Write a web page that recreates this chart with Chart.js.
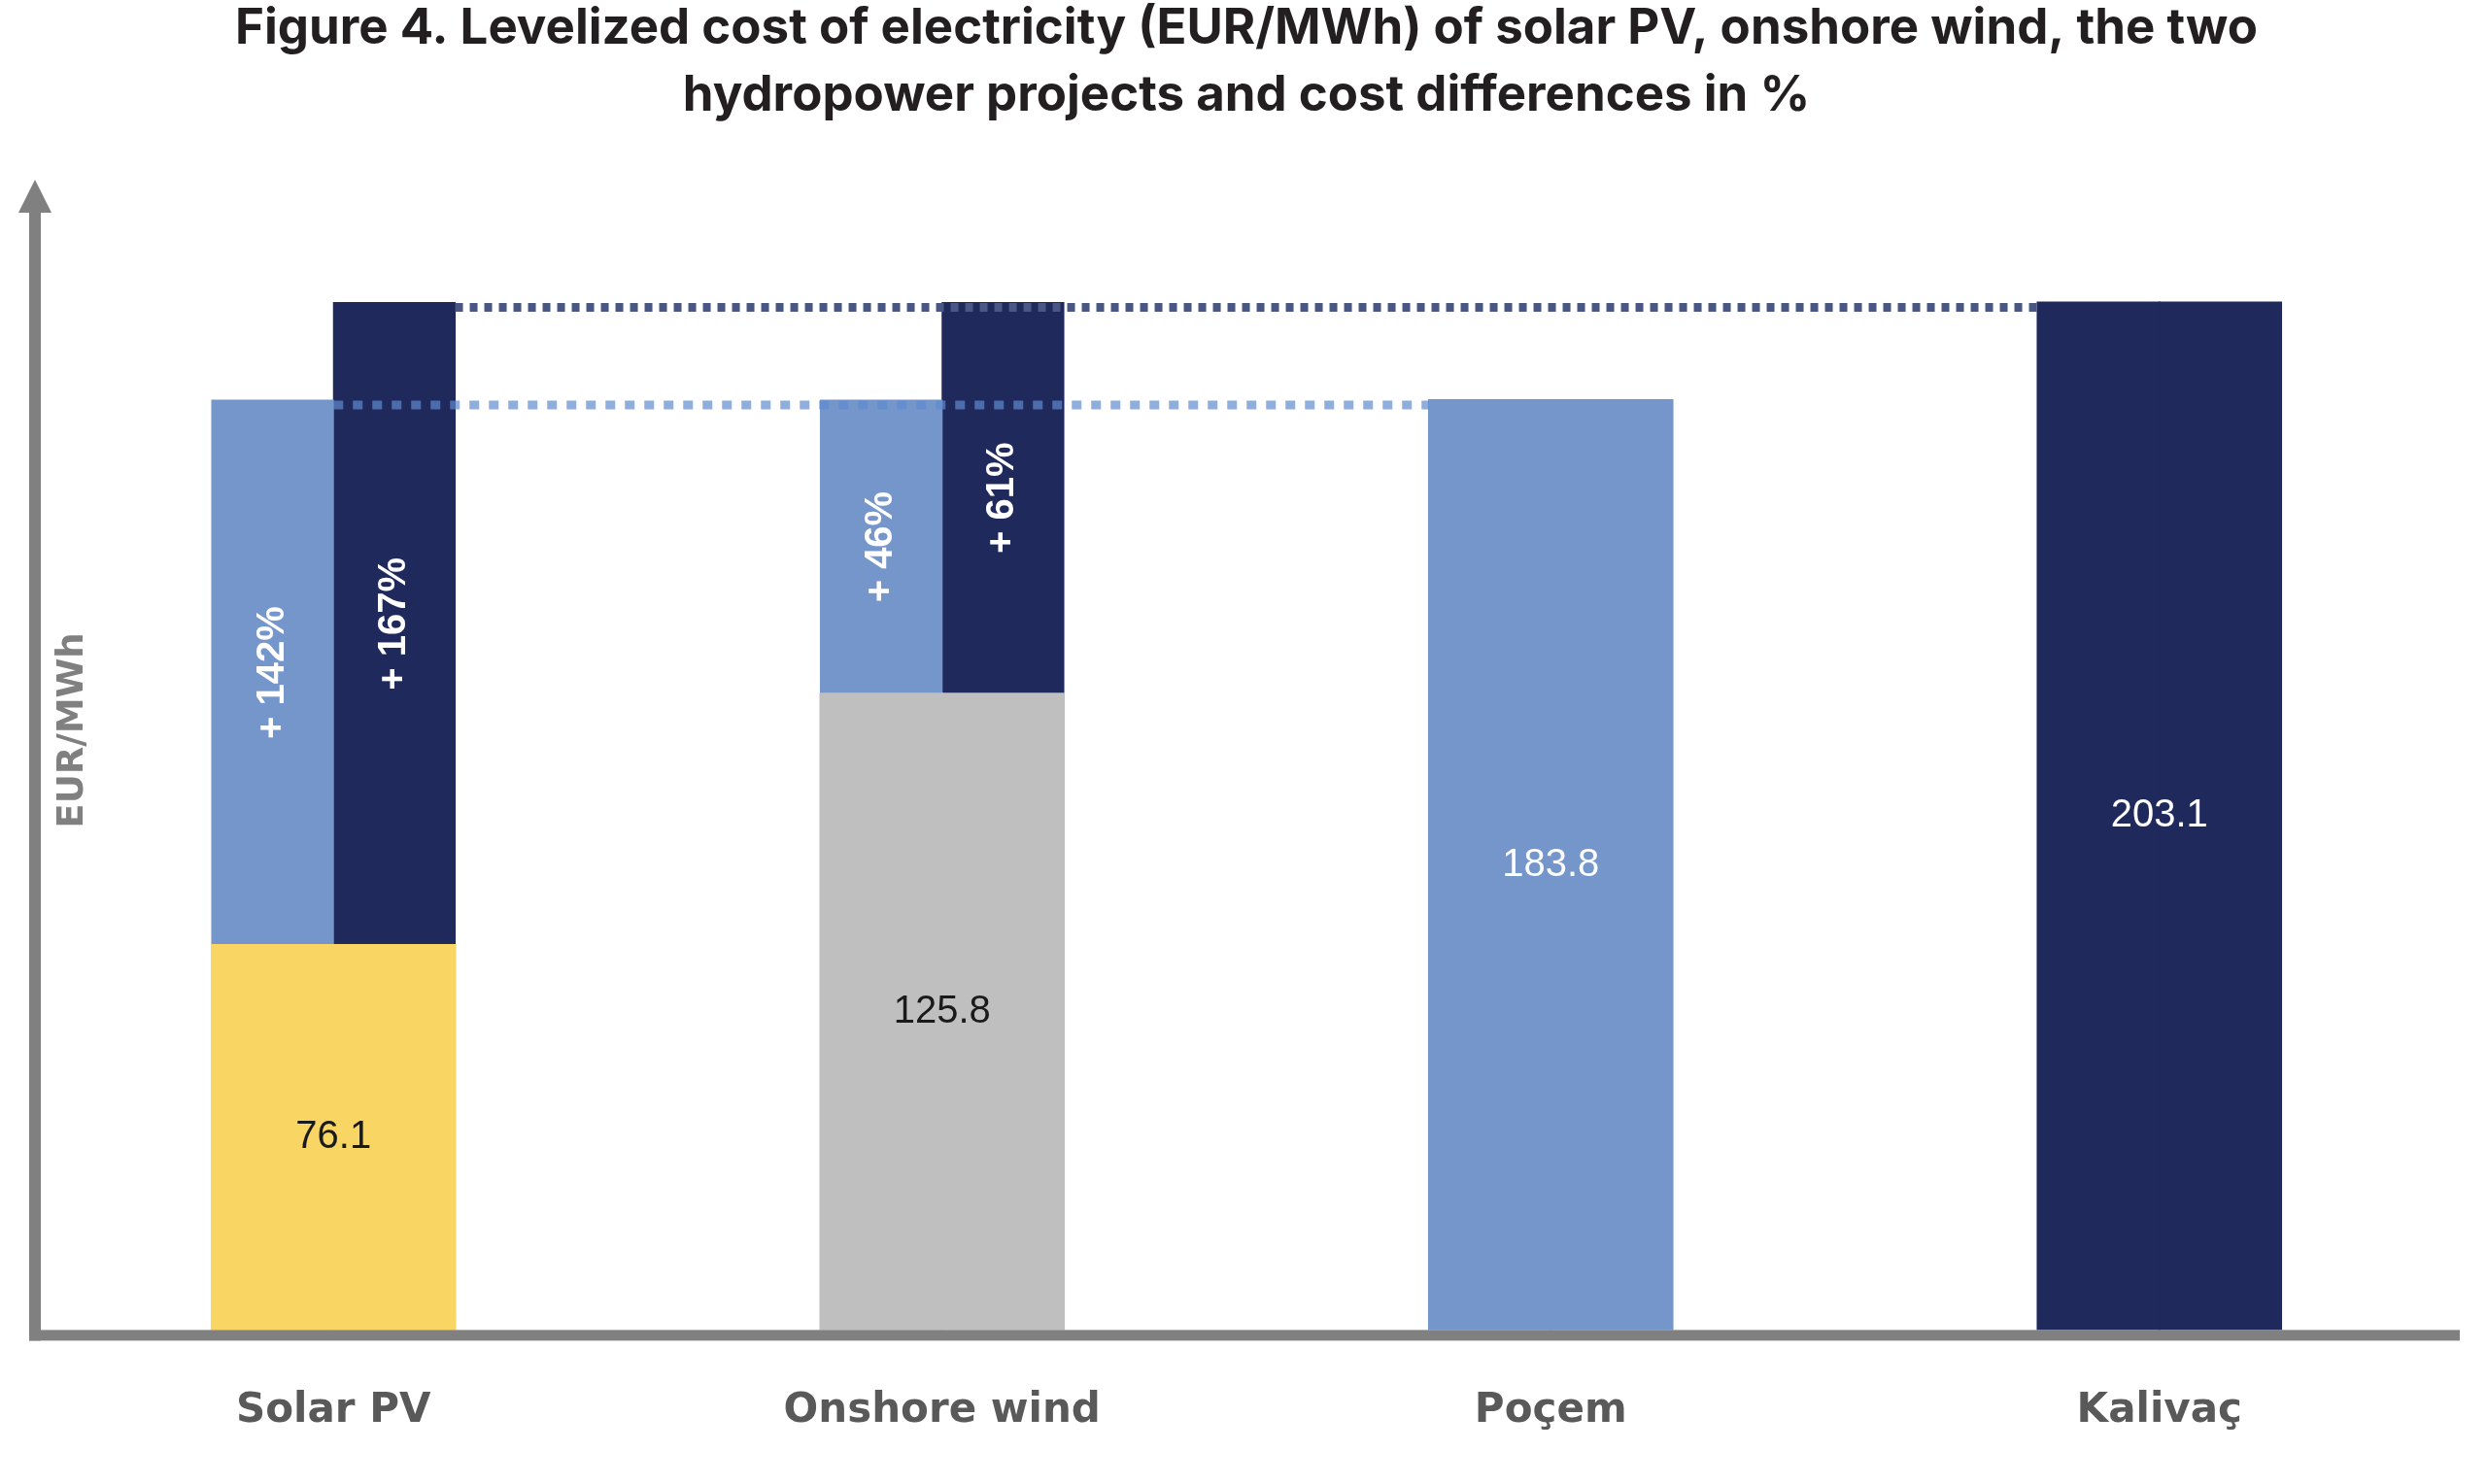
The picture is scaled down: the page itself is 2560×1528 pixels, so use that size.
<!DOCTYPE html>
<html>
<head>
<meta charset="utf-8">
<title>Levelized cost of electricity</title>
<script src="https://cdn.jsdelivr.net/npm/chart.js@4.4.0/dist/chart.umd.min.js"></script>
<style>
  body { margin: 0; background: #ffffff; }
  canvas { display: block; }
</style>
</head>
<body>
<canvas id="lcoeChart" width="2560" height="1528"></canvas>
<script>
// values (EUR/MWh)
const categories = ['Solar PV', 'Onshore wind', 'Poçem', 'Kalivaç'];
const lcoe = [76.1, 125.8, 183.8, 203.1];
const pocemCost = 183.8;
const kalivacCost = 203.1;
const diffToPocem = ['+ 142%', '+ 46%', null, null];
const diffToKalivac = ['+ 167%', '+ 61%', null, null];

const yellow = '#F9D563';
const grey = '#BFBFBF';
const lightBlue = '#7496CB';
const navy = '#1F295C';
const axisGrey = '#808080';
const barColors = [yellow, grey, lightBlue, navy];

// base bars are drawn as two touching halves so the cost gap can sit on each half
const baseBars = lcoe.map(v => [0, v]);
const gapToPocem = lcoe.map((v, i) => diffToPocem[i] ? [v, pocemCost] : null);
const gapToKalivac = lcoe.map((v, i) => diffToKalivac[i] ? [v, kalivacCost] : null);

const decorations = {
    id: 'decorations',
    afterDatasetsDraw: (chart) => {
        const {ctx, chartArea: {left, right, top, bottom}, scales: {y}} = chart;
        const baseL = chart.getDatasetMeta(0).data;
        const baseR = chart.getDatasetMeta(1).data;
        const topL = chart.getDatasetMeta(2).data;
        const topR = chart.getDatasetMeta(3).data;
        ctx.save();

        // dotted reference lines
        const kalY = y.getPixelForValue(kalivacCost) + 5;
        const pocY = y.getPixelForValue(pocemCost) + 5;
        ctx.lineWidth = 9;
        ctx.setLineDash([8, 7]);
        ctx.strokeStyle = '#4A5683';
        ctx.beginPath();
        ctx.moveTo(topR[0].x + topR[0].width / 2, kalY);
        ctx.lineTo(baseL[3].x - baseL[3].width / 2, kalY);
        ctx.stroke();
        ctx.setLineDash([10, 10]);
        ctx.strokeStyle = 'rgba(96,138,206,0.7)';
        ctx.beginPath();
        ctx.moveTo(topL[0].x + topL[0].width / 2, pocY);
        ctx.lineTo(baseL[2].x - baseL[2].width / 2, pocY);
        ctx.stroke();
        ctx.setLineDash([]);

        // value labels in the middle of the base bars
        ctx.font = '40px "Liberation Sans"';
        ctx.textAlign = 'center';
        ctx.textBaseline = 'middle';
        lcoe.forEach((v, i) => {
            const cx = (baseL[i].x + baseR[i].x) / 2;
            const cy = (y.getPixelForValue(0) + y.getPixelForValue(v)) / 2;
            ctx.fillStyle = i < 2 ? '#1A1A1A' : '#FFFFFF';
            ctx.fillText(v.toFixed(1), cx, cy);
        });

        // rotated % differences
        ctx.font = 'bold 40px "Liberation Sans"';
        ctx.fillStyle = '#FFFFFF';
        const drawPct = (bar, text, from, to) => {
            const cy = (y.getPixelForValue(from) + y.getPixelForValue(to)) / 2;
            ctx.save();
            ctx.translate(bar.x, cy);
            ctx.rotate(-Math.PI / 2);
            ctx.fillText(text, 0, 0);
            ctx.restore();
        };
        lcoe.forEach((v, i) => {
            if (diffToPocem[i]) drawPct(topL[i], diffToPocem[i], v, pocemCost);
            if (diffToKalivac[i]) drawPct(topR[i], diffToKalivac[i], v, kalivacCost);
        });

        // y axis title sits inside the plot, right of the axis
        ctx.save();
        ctx.font = 'bold 37px "DejaVu Sans"';
        ctx.fillStyle = axisGrey;
        ctx.translate(left + 45, 752);
        ctx.rotate(-Math.PI / 2);
        ctx.fillText('EUR/MWh', 0, 0);
        ctx.restore();

        // axes with arrow on the vertical one
        ctx.fillStyle = axisGrey;
        ctx.fillRect(left, bottom, right - left - 4, 11);
        ctx.fillRect(left, top + 32, 12, bottom + 11 - (top + 32));
        ctx.beginPath();
        ctx.moveTo(left + 6, top - 2);
        ctx.lineTo(left + 23, top + 32);
        ctx.lineTo(left - 11, top + 32);
        ctx.closePath();
        ctx.fill();
        ctx.restore();
    }
};

const data = {
    labels: categories,
    datasets: [
        {label: 'LCOE', stack: 'L', data: baseBars, backgroundColor: barColors, inflateAmount: 1},
        {label: 'LCOE', stack: 'R', data: baseBars, backgroundColor: barColors, inflateAmount: 1},
        {label: 'Difference to Poçem', stack: 'L', data: gapToPocem, backgroundColor: lightBlue, inflateAmount: 0.5},
        {label: 'Difference to Kalivaç', stack: 'R', data: gapToKalivac, backgroundColor: navy, inflateAmount: 0.5}
    ]
};

const config = {
    type: 'bar',
    data,
    options: {
        responsive: false,
        animation: false,
        devicePixelRatio: 1,
        categoryPercentage: 0.4,
        barPercentage: 1,
        layout: {
            padding: {left: 30, right: 24, top: -5, bottom: -9}
        },
        plugins: {
            legend: {display: false},
            tooltip: {enabled: false},
            title: {
                display: true,
                text: ['Figure 4. Levelized cost of electricity (EUR/MWh) of solar PV, onshore wind, the two',
                       'hydropower projects and cost differences in %'],
                color: '#231F20',
                font: {family: 'Inter', weight: 'bold', size: 51, lineHeight: 1.353},
                padding: {top: 0, bottom: 54}
            }
        },
        scales: {
            x: {
                grid: {display: false, drawTicks: false},
                border: {display: false},
                ticks: {
                    color: '#595959',
                    padding: 67,
                    font: {family: 'DejaVu Sans', weight: 'bold', size: 42, lineHeight: 0.8}
                }
            },
            y: {
                display: false,
                stacked: false,
                min: 0,
                max: 227
            }
        }
    },
    plugins: [decorations]
};

const lcoeChart = new Chart(document.getElementById('lcoeChart'), config);
</script>
</body>
</html>
